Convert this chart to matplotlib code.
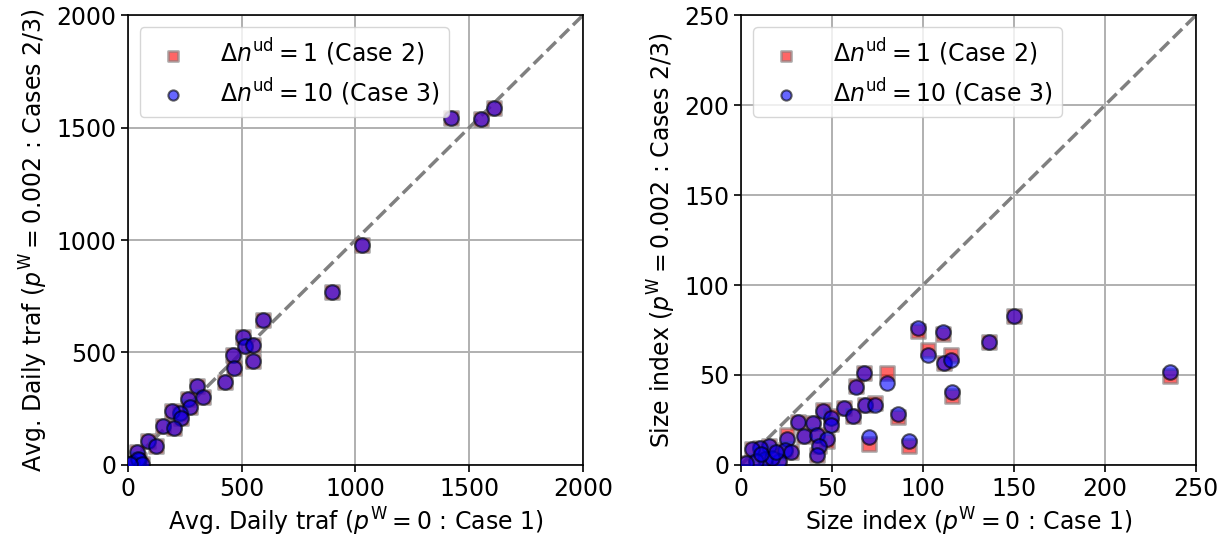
import numpy as np
import matplotlib.pyplot as plt

# left panel: avg daily traffic
traf_c1 = [1420, 1550, 1610, 1030, 897, 593, 504, 514, 551, 463, 550, 467, 428, 305, 331,
           265, 273, 229, 192, 233, 155, 204, 87, 122, 41, 50, 20, 45, 60, 10]
traf_c2 = [1545, 1537, 1588, 980, 767, 645, 567, 529, 533, 489, 464, 433, 369, 351, 301,
           293, 259, 232, 241, 207, 175, 163, 108, 86, 59, 22, 10, 25, 5, 3]
traf_c3 = [1545, 1537, 1588, 980, 767, 645, 567, 529, 533, 489, 464, 433, 369, 351, 301,
           293, 259, 232, 241, 207, 175, 163, 108, 86, 59, 22, 10, 25, 5, 3]

# right panel: size index
size_c1 = [236, 150, 136, 97.5, 111, 103, 111.7, 115.6, 116.1, 67.6, 80.1, 63.2, 68.3, 73.6,
           56.6, 61.4, 86.1, 45.2, 49.5, 49.5, 31.5, 39.4, 25.1, 34.6, 41.9, 47.4, 42.9, 41.6,
           70.5, 92.3, 24.2, 27.5, 21.1, 15.6, 10.4, 5.9, 13, 8, 17, 3, 11, 19]
size_c2 = [49.5, 83, 68.5, 74.5, 72.5, 64, 56.5, 61, 38.5, 50.9, 51, 44, 33.3, 34.5,
           31.5, 27.4, 26.5, 30.5, 27, 23, 24.1, 23.1, 16.6, 16.1, 16.7, 13.5, 10.6, 5.6,
           11.7, 10.5, 8.0, 6.9, 1.9, 10.7, 9.6, 8.9, 3, 2, 4, 1, 6, 7]
size_c3 = [51.5, 83, 68.5, 75.9, 73.7, 61, 56.5, 58.3, 40.4, 50.9, 45.4, 43.5, 33.3, 33.3,
           31.5, 27.4, 28.3, 30.0, 25.9, 22.2, 24.1, 23.1, 14.3, 16.1, 16.7, 14.3, 10.6, 5.6,
           15.4, 13.5, 8.0, 6.9, 1.9, 10.7, 9.6, 8.9, 3, 2, 4, 1, 6, 7]

plt.rcParams['font.size'] = 17
plt.rcParams['axes.linewidth'] = 1.2
plt.rcParams['xtick.major.size'] = 5
plt.rcParams['ytick.major.size'] = 5
plt.rcParams['xtick.major.width'] = 1.2
plt.rcParams['ytick.major.width'] = 1.2

fig = plt.figure(figsize=(12.22, 5.45), dpi=100)
ax1 = fig.add_axes([0.1047, 0.147, 0.3723, 0.825])
ax2 = fig.add_axes([0.6064, 0.147, 0.3723, 0.825])

panels = [
    (ax1, traf_c1, traf_c2, traf_c3, 2000, np.arange(0, 2001, 500), "Avg. Daily traf"),
    (ax2, size_c1, size_c2, size_c3, 250, np.arange(0, 251, 50), "Size index"),
]

for ax, x, y2, y3, lim, ticks, name in panels:
    ax.grid(True, color='#b0b0b0', lw=1.4, zorder=0)
    ax.set_axisbelow(True)
    ax.plot([0, lim], [0, lim], '--', color='gray', lw=2.5, zorder=1)
    ax.scatter(x, y2, s=110, marker='s', color='red', alpha=0.6, edgecolor='gray',
               linewidth=2, label=r'$\Delta n^{\rm ud} = 1$ (Case 2)', zorder=2)
    ax.scatter(x, y3, s=110, marker='o', color='blue', alpha=0.6, edgecolor='black',
               linewidth=1.5, label=r'$\Delta n^{\rm ud} = 10$ (Case 3)', zorder=3)
    ax.set_xlim(0, lim)
    ax.set_ylim(0, lim)
    ax.set_xticks(ticks)
    ax.set_yticks(ticks)
    ax.set_xlabel(name + r' ($p^{\rm W} = 0$ : Case 1)')
    ax.set_ylabel(name + r' ($p^{\rm W} = 0.002$ : Cases 2/3)')
    ax.legend(loc='upper left', markerscale=0.7, borderpad=0.4, labelspacing=0.35,
              handletextpad=1.0)

plt.savefig("out.png", dpi=100)
